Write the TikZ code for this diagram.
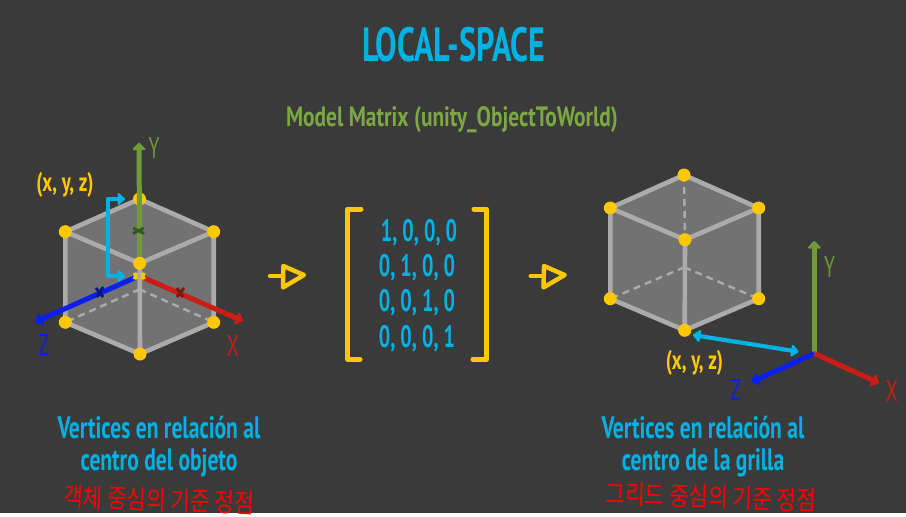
\documentclass[tikz,border=0pt]{standalone}
\usepackage{fontspec}
\setmainfont{PT Sans}
\newfontfamily\cnd[FakeStretch=0.695]{PT Sans}
\newfontfamily\cndm[FakeStretch=0.65]{PT Sans}
\newfontfamily\cndb[FakeStretch=0.67]{PT Sans}
\newfontfamily\cnds[FakeStretch=0.765]{PT Sans}
\newfontfamily\krf[FakeStretch=0.82]{Noto Sans CJK KR}
\usetikzlibrary{arrows.meta}
\definecolor{bgc}{HTML}{3A3A3A}
\definecolor{cyanc}{HTML}{00B2E3}
\definecolor{yelc}{HTML}{FFC800}
\definecolor{grnc}{HTML}{6E9A3A}
\definecolor{subc}{HTML}{7CA842}
\definecolor{bluc}{HTML}{0A1EF0}
\definecolor{redc}{HTML}{C81E14}
\definecolor{edgec}{HTML}{ABABAB}
\definecolor{facec}{HTML}{727272}
\definecolor{darkg}{HTML}{2F5A22}
\definecolor{darkb}{HTML}{0A147A}
\definecolor{darkr}{HTML}{7A1410}
\tikzset{
 vertexdot/.style={circle,fill=yelc,inner sep=0pt,minimum size=13pt},
 edgeline/.style={draw=edgec,line width=4.6pt},
 hiddenline/.style={draw=edgec,line width=2.4pt,dash pattern=on 7pt off 5pt},
 axisline/.style={line width=5pt,-{Triangle[length=8pt,width=15pt,round]}},
 tickmark/.style={line width=2.8pt},
 cyanarrow/.style={draw=cyanc,line width=4.2pt,-{Triangle[length=8pt,width=14pt,round]}},
 brk/.style={draw=yelc,line width=5pt,line cap=round,line join=round},
 hollow/.style={draw=yelc,line width=4.4pt,line cap=round,line join=round},
 cyantext/.style={text=cyanc,font=\cnd\bfseries\fontsize{31}{34}\selectfont},
 matrixtext/.style={text=cyanc,font=\cndm\bfseries\fontsize{31}{34}\selectfont},
 coordtext/.style={text=yelc,font=\cnd\bfseries\fontsize{27}{28}\selectfont},
 axislabel/.style={font=\cndm\fontsize{30}{32}\selectfont},
 handtext/.style={text=red,font=\krf\fontsize{26}{28}\selectfont,inner sep=0pt},
}
\begin{document}
\begin{tikzpicture}[x=1pt,y=-1pt]
\useasboundingbox (0,0) rectangle (906,517);
\fill[white] (0,0) rectangle (906,517);
\fill[bgc] (0,0) rectangle (906,513);
\node[text=cyanc,font=\cndb\bfseries\fontsize{48}{52}\selectfont] (title) at (454,45) {LOCAL-SPACE};
\node[text=subc,font=\cnds\bfseries\fontsize{28}{30}\selectfont] (subtitle) at (452,120) {Model Matrix (unity\_ObjectToWorld)};

% left cube
\coordinate (lT) at (139.5,199);
\coordinate (lUL) at (65.3,231.7);
\coordinate (lUR) at (213.7,231.7);
\coordinate (lC) at (139.7,263.3);
\coordinate (lLL) at (65.3,322.3);
\coordinate (lLR) at (213.7,322.3);
\coordinate (lB) at (140,354);
\coordinate (lH) at (139.5,289.3);
\fill[facec] (lT)--(lUR)--(lLR)--(lB)--(lLL)--(lUL)--cycle;
\draw[hiddenline] (lH)--(lLL) (lH)--(lLR);
\draw[edgeline] (lT)--(lUR)--(lC)--(lUL)--cycle (lUL)--(lLL)--(lB)--(lLR)--(lUR) (lC)--(lB);
\foreach \v in {lT,lUL,lUR,lLL,lLR,lB} \node[vertexdot] at (\v) {};
% left axes
\coordinate (lO) at (139.3,276);
\coordinate (lYt) at (139,142.7);
\coordinate (lZt) at (35,322);
\coordinate (lXt) at (243,321);
\draw[axisline,grnc] (lC)--(lYt);
\node[vertexdot] at (lC) {};
\draw[axisline,bluc] ([shift={(-5,2)}]lO)--(lZt);
\draw[axisline,redc] ([shift={(5,2)}]lO)--(lXt);
\draw[tickmark,draw=yelc] (134,273)--(137,279) (134,279)--(137,273) (141.5,273)--(144.5,279) (141.5,279)--(144.5,273);
\draw[tickmark,darkg] (133,228)--(144,233.5) (133,233.5)--(144,228);
\draw[tickmark,darkb] (96,288)--(103,297) (103,287)--(97,297);
\draw[tickmark,darkr] (177,288)--(183,297) (184,288)--(177,297);
% cyan bracket
\coordinate (cbA) at (125,199);
\coordinate (cbB) at (125,276);
\draw[cyanarrow,line join=round] (115,199)--(108,199)--(108,276)--(cbB);
\draw[cyanarrow] (112,199)--(cbA);
\node[coordtext] (lxyz) at (65,185) {(x, y, z)};
\node[axislabel,text=grnc] (lY) at (154,148) {Y};
\node[axislabel,text=bluc] (lZ) at (44,345) {Z};
\node[axislabel,text=redc] (lX) at (233,346) {X};

% hollow arrows
\draw[hollow] (270,276)--(283,276);
\draw[hollow] (283.3,266)--(304,275)--(283,287.5)--cycle;
\draw[hollow] (530.7,276)--(544,276);
\draw[hollow] (544,266)--(564.7,275)--(543.5,287.5)--cycle;

% matrix
\draw[brk] (361,209)--(347.7,209)--(347.7,359.3)--(360,359.3);
\draw[brk] (474,209)--(486.7,209)--(486.7,359.3)--(473,359.3);
\node[matrixtext] (m1) at (419,233) {1, 0, 0, 0};
\node[matrixtext] (m2) at (417,268) {0, 1, 0, 0};
\node[matrixtext] (m3) at (417,303) {0, 0, 1, 0};
\node[matrixtext] (m4) at (417,339) {0, 0, 0, 1};

% right cube
\coordinate (rT) at (684,175);
\coordinate (rUL) at (610.3,208);
\coordinate (rUR) at (758.7,208);
\coordinate (rC) at (685,239.7);
\coordinate (rLL) at (610.3,298.7);
\coordinate (rLR) at (758.7,298.7);
\coordinate (rB) at (684.7,330.3);
\coordinate (rH) at (684.3,267.3);
\fill[facec] (rT)--(rUR)--(rLR)--(rB)--(rLL)--(rUL)--cycle;
\draw[hiddenline] (rH)--(rLL) (rH)--(rLR) (rT)--(rC);
\draw[edgeline] (rT)--(rUR)--(rC)--(rUL)--cycle (rUL)--(rLL)--(rB)--(rLR)--(rUR) (rC)--(rB);
\foreach \v in {rT,rUL,rUR,rC,rLL,rLR,rB} \node[vertexdot] at (\v) {};
% right axes
\coordinate (rO) at (814.3,353.5);
\coordinate (rYt) at (814.3,241);
\coordinate (rZt) at (751.5,382);
\coordinate (rXt) at (879,383);
\draw[axisline,grnc] (rO)--(rYt);
\draw[axisline,bluc] (rO)--(rZt);
\draw[axisline,redc] (rO)--(rXt);
\coordinate (rcA) at (693,335);
\coordinate (rcB) at (798.5,351.7);
\draw[draw=cyanc,line width=4.2pt,{Triangle[length=8pt,width=14pt,round]}-{Triangle[length=8pt,width=14pt,round]}] (rcA)--(rcB);
\node[coordtext] (rxyz) at (694.5,363) {(x, y, z)};
\node[axislabel,text=grnc] (rY) at (829.5,267) {Y};
\node[axislabel,text=bluc] (rZ) at (735.7,390) {Z};
\node[axislabel,text=redc] (rX) at (892,391) {X};

% captions
\node[cyantext] (c1) at (159,428) {Vertices en relación al};
\node[cyantext] (c2) at (159,463) {centro del objeto};
\node[cyantext] (c3) at (703,428) {Vertices en relación al};
\node[cyantext] (c4) at (703,463) {centro de la grilla};
\node[handtext,rotate=-2] (h1) at (159,500) {객체 중심의 기준 정점};
\node[handtext,rotate=-2] (h2) at (711,497) {그리드 중심의 기준 정점};
\end{tikzpicture}
\end{document}
